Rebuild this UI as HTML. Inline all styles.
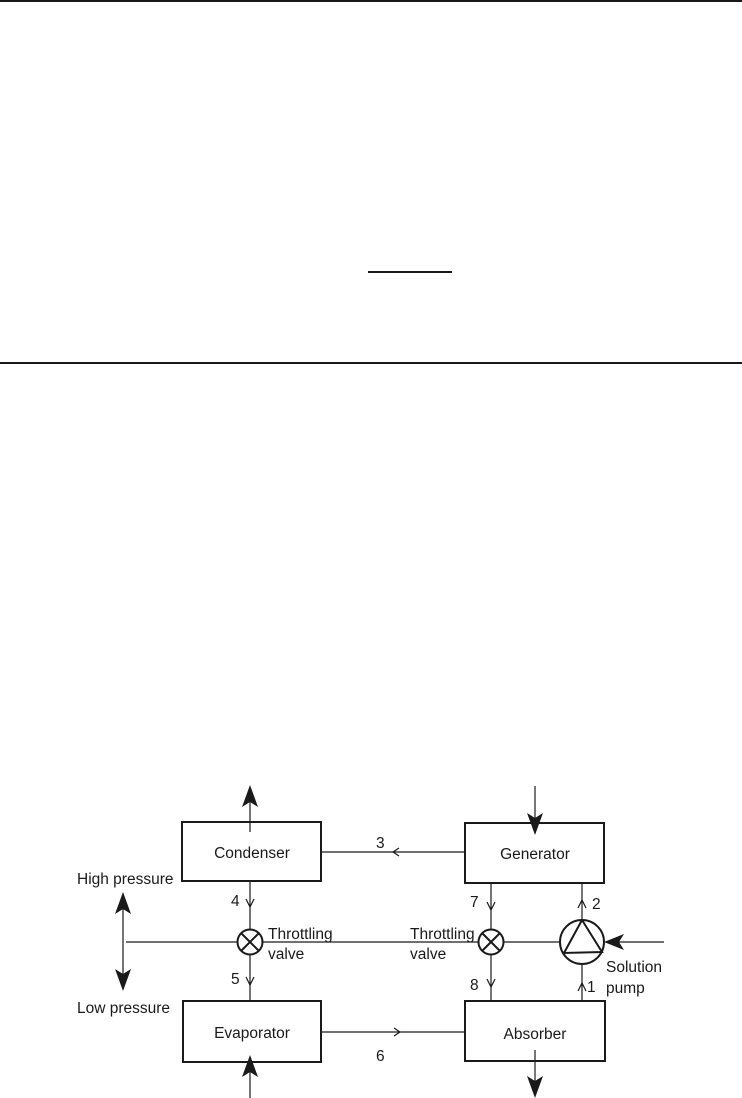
<!DOCTYPE html>
<html><head><style>
html,body{margin:0;padding:0;background:#fff;}
svg{display:block;}
text{font-family:"Liberation Sans",sans-serif;fill:#1a1a1a;}
</style></head><body>
<svg width="742" height="1098" viewBox="0 0 742 1098" xmlns="http://www.w3.org/2000/svg">
<rect x="0" y="0" width="742" height="2" fill="#1a1a1a"/>
<rect x="368" y="271" width="84" height="2" fill="#1a1a1a"/>
<rect x="0" y="362" width="742" height="2" fill="#1a1a1a"/>

<g stroke="#1a1a1a" fill="none">
<rect x="182" y="822" width="139" height="59" stroke-width="2"/>
<rect x="183" y="1001" width="138" height="61" stroke-width="2"/>
<rect x="465" y="823" width="139" height="60" stroke-width="2"/>
<rect x="465" y="1001" width="140" height="60" stroke-width="2"/>

<g stroke-width="1.2">
<line x1="321" y1="852" x2="465" y2="852"/>
<polyline points="399,848 393,852 399,856"/>
<line x1="321" y1="1032" x2="465" y2="1032"/>
<polyline points="394,1028 400,1032 394,1036"/>
<line x1="126" y1="942" x2="237" y2="942"/>
<line x1="263" y1="942" x2="478" y2="942"/>
<line x1="504" y1="942" x2="560" y2="942"/>
<line x1="250" y1="881" x2="250" y2="929"/>
<polyline points="246,899 250,907 254,899"/>
<line x1="250" y1="955" x2="250" y2="1001"/>
<polyline points="246,977 250,985 254,977"/>
<line x1="491" y1="883" x2="491" y2="929"/>
<polyline points="487,902 491,910 495,902"/>
<line x1="491" y1="955" x2="491" y2="1001"/>
<polyline points="487,979 491,987 495,979"/>
<line x1="582" y1="883" x2="582" y2="920"/>
<polyline points="578,908 582,900 586,908"/>
<line x1="582" y1="964" x2="582" y2="1001"/>
<polyline points="578,991 582,983 586,991"/>
<line x1="123" y1="905" x2="123" y2="980"/>
<line x1="250" y1="832" x2="250" y2="800"/>
<line x1="250" y1="1098" x2="250" y2="1070"/>
<line x1="535" y1="786" x2="535" y2="820"/>
<line x1="535" y1="1050" x2="535" y2="1083"/>
<line x1="664" y1="942" x2="615" y2="942"/>
</g>

<g stroke-width="2">
<circle cx="250" cy="942" r="12.5"/>
<line x1="241" y1="933" x2="259" y2="951"/>
<line x1="259" y1="933" x2="241" y2="951"/>
<circle cx="491" cy="942" r="12.5"/>
<line x1="482" y1="933" x2="500" y2="951"/>
<line x1="500" y1="933" x2="482" y2="951"/>
<circle cx="582" cy="942" r="22"/>
<polygon points="582,920 564,953 602,952"/>
</g>
</g>

<g fill="#1a1a1a">
<path d="M123,892 L131,914 L123,909 L115,914 Z"/>
<path d="M123,991 L131,969 L123,974 L115,969 Z"/>
<path d="M250,785 L258,807 L250,802 L242,807 Z"/>
<path d="M250,1055 L258,1077 L250,1072 L242,1077 Z"/>
<path d="M535,835 L543,813 L535,818 L527,813 Z"/>
<path d="M535,1098 L543,1076 L535,1081 L527,1076 Z"/>
<path d="M604,942 L624,934 L619,942 L624,950 Z"/>
</g>

<g font-size="15.5">
<text x="252" y="858" text-anchor="middle">Condenser</text>
<text x="252" y="1038" text-anchor="middle">Evaporator</text>
<text x="535" y="859" text-anchor="middle">Generator</text>
<text x="535" y="1039" text-anchor="middle">Absorber</text>
<text x="77" y="884">High pressure</text>
<text x="77" y="1013">Low pressure</text>
<text x="268" y="939">Throttling</text>
<text x="268" y="959">valve</text>
<text x="410" y="939">Throttling</text>
<text x="410" y="959">valve</text>
<text x="606" y="972">Solution</text>
<text x="606" y="993">pump</text>
<text x="376" y="848">3</text>
<text x="231" y="906">4</text>
<text x="231" y="984">5</text>
<text x="376" y="1061">6</text>
<text x="470" y="907">7</text>
<text x="470" y="990">8</text>
<text x="592" y="909">2</text>
<text x="587" y="992">1</text>
</g>
</svg>
</body></html>
